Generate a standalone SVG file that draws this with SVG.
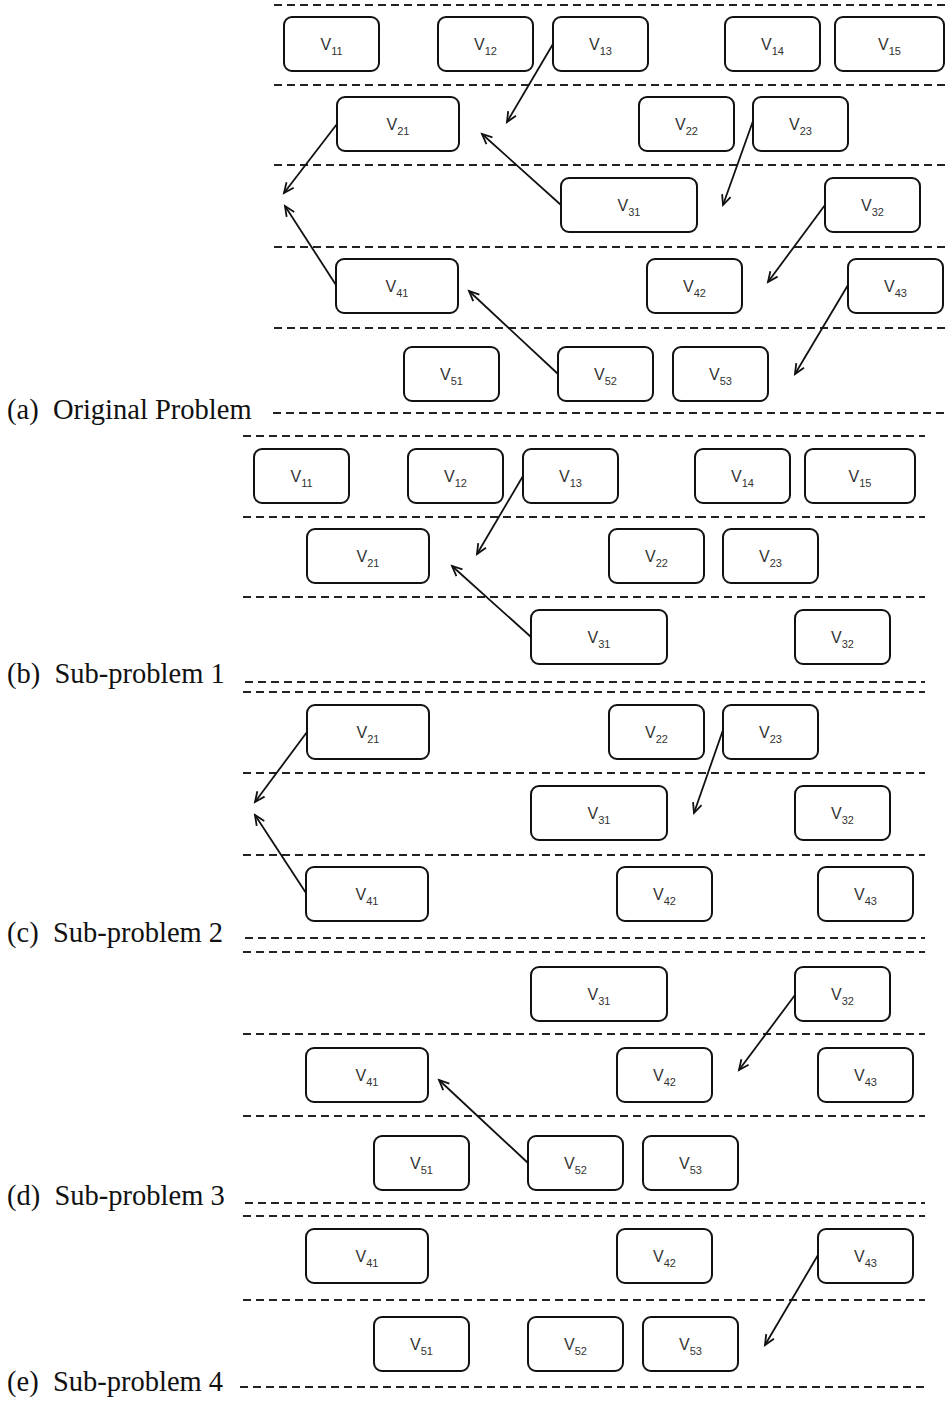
<svg xmlns="http://www.w3.org/2000/svg" width="945" height="1401" viewBox="0 0 945 1401">
<style>
.n{fill:#fff;stroke:#111;stroke-width:2}
.t{font-family:"Liberation Sans",Arial,sans-serif;font-size:16px;fill:#333;text-anchor:middle}
.s{font-size:11px}
.d{stroke:#222;stroke-width:2;stroke-dasharray:8 5;fill:none}
.e{stroke:#111;stroke-width:1.8;fill:none;marker-end:url(#ah)}
.lb{font-family:"Liberation Serif","Times New Roman",serif;font-size:28.5px;fill:#111}
</style>
<defs>
<marker id="ah" markerUnits="userSpaceOnUse" markerWidth="14" markerHeight="14" refX="10" refY="5" orient="auto" overflow="visible">
<path d="M0,0.5 L10,5 L0,9.5" fill="none" stroke="#111" stroke-width="1.8"/>
</marker>
</defs>
<rect width="945" height="1401" fill="#fff"/>
<g id="separators">
<line class="d" x1="274" y1="5" x2="945" y2="5"/>
<line class="d" x1="274" y1="85" x2="945" y2="85"/>
<line class="d" x1="274" y1="165" x2="945" y2="165"/>
<line class="d" x1="274" y1="247" x2="945" y2="247"/>
<line class="d" x1="274" y1="328" x2="945" y2="328"/>
<line class="d" x1="273" y1="413" x2="945" y2="413"/>
<line class="d" x1="243" y1="436" x2="925" y2="436"/>
<line class="d" x1="243" y1="517" x2="925" y2="517"/>
<line class="d" x1="243" y1="597" x2="925" y2="597"/>
<line class="d" x1="245" y1="682" x2="925" y2="682"/>
<line class="d" x1="243" y1="692" x2="925" y2="692"/>
<line class="d" x1="243" y1="773" x2="925" y2="773"/>
<line class="d" x1="243" y1="855" x2="925" y2="855"/>
<line class="d" x1="245" y1="938" x2="925" y2="938"/>
<line class="d" x1="243" y1="952" x2="925" y2="952"/>
<line class="d" x1="243" y1="1034" x2="925" y2="1034"/>
<line class="d" x1="243" y1="1116" x2="925" y2="1116"/>
<line class="d" x1="245" y1="1203" x2="925" y2="1203"/>
<line class="d" x1="243" y1="1216" x2="925" y2="1216"/>
<line class="d" x1="243" y1="1300" x2="925" y2="1300"/>
<line class="d" x1="240" y1="1387" x2="925" y2="1387"/>
</g>
<g id="labels">
<text class="lb" x="7" y="419" xml:space="preserve">(a)  Original Problem</text>
<text class="lb" x="7" y="683" xml:space="preserve">(b)  Sub-problem 1</text>
<text class="lb" x="7" y="942" xml:space="preserve">(c)  Sub-problem 2</text>
<text class="lb" x="7" y="1205" xml:space="preserve">(d)  Sub-problem 3</text>
<text class="lb" x="7" y="1391" xml:space="preserve">(e)  Sub-problem 4</text>
</g>
<!-- (a) -->
<g id="a-V11"><rect class="n" x="284" y="17" width="95" height="54" rx="8"/><text class="t" x="331.5" y="50">V<tspan class="s" dy="5">11</tspan></text></g>
<g id="a-V12"><rect class="n" x="438" y="17" width="95" height="54" rx="8"/><text class="t" x="485.5" y="50">V<tspan class="s" dy="5">12</tspan></text></g>
<g id="a-V13"><rect class="n" x="553" y="17" width="95" height="54" rx="8"/><text class="t" x="600.5" y="50">V<tspan class="s" dy="5">13</tspan></text></g>
<g id="a-V14"><rect class="n" x="725" y="17" width="95" height="54" rx="8"/><text class="t" x="772.5" y="50">V<tspan class="s" dy="5">14</tspan></text></g>
<g id="a-V15"><rect class="n" x="835" y="17" width="109" height="54" rx="8"/><text class="t" x="889.5" y="50">V<tspan class="s" dy="5">15</tspan></text></g>
<g id="a-V21"><rect class="n" x="337" y="97" width="122" height="54" rx="8"/><text class="t" x="398" y="130">V<tspan class="s" dy="5">21</tspan></text></g>
<g id="a-V22"><rect class="n" x="639" y="97" width="95" height="54" rx="8"/><text class="t" x="686.5" y="130">V<tspan class="s" dy="5">22</tspan></text></g>
<g id="a-V23"><rect class="n" x="753" y="97" width="95" height="54" rx="8"/><text class="t" x="800.5" y="130">V<tspan class="s" dy="5">23</tspan></text></g>
<g id="a-V31"><rect class="n" x="561" y="178" width="136" height="54" rx="8"/><text class="t" x="629" y="211">V<tspan class="s" dy="5">31</tspan></text></g>
<g id="a-V32"><rect class="n" x="825" y="178" width="95" height="54" rx="8"/><text class="t" x="872.5" y="211">V<tspan class="s" dy="5">32</tspan></text></g>
<g id="a-V41"><rect class="n" x="336" y="259" width="122" height="54" rx="8"/><text class="t" x="397" y="292">V<tspan class="s" dy="5">41</tspan></text></g>
<g id="a-V42"><rect class="n" x="647" y="259" width="95" height="54" rx="8"/><text class="t" x="694.5" y="292">V<tspan class="s" dy="5">42</tspan></text></g>
<g id="a-V43"><rect class="n" x="848" y="259" width="95" height="54" rx="8"/><text class="t" x="895.5" y="292">V<tspan class="s" dy="5">43</tspan></text></g>
<g id="a-V51"><rect class="n" x="404" y="347" width="95" height="54" rx="8"/><text class="t" x="451.5" y="380">V<tspan class="s" dy="5">51</tspan></text></g>
<g id="a-V52"><rect class="n" x="558" y="347" width="95" height="54" rx="8"/><text class="t" x="605.5" y="380">V<tspan class="s" dy="5">52</tspan></text></g>
<g id="a-V53"><rect class="n" x="673" y="347" width="95" height="54" rx="8"/><text class="t" x="720.5" y="380">V<tspan class="s" dy="5">53</tspan></text></g>
<!-- (b) -->
<g id="b-V11"><rect class="n" x="254" y="449" width="95" height="54" rx="8"/><text class="t" x="301.5" y="482">V<tspan class="s" dy="5">11</tspan></text></g>
<g id="b-V12"><rect class="n" x="408" y="449" width="95" height="54" rx="8"/><text class="t" x="455.5" y="482">V<tspan class="s" dy="5">12</tspan></text></g>
<g id="b-V13"><rect class="n" x="523" y="449" width="95" height="54" rx="8"/><text class="t" x="570.5" y="482">V<tspan class="s" dy="5">13</tspan></text></g>
<g id="b-V14"><rect class="n" x="695" y="449" width="95" height="54" rx="8"/><text class="t" x="742.5" y="482">V<tspan class="s" dy="5">14</tspan></text></g>
<g id="b-V15"><rect class="n" x="805" y="449" width="110" height="54" rx="8"/><text class="t" x="860" y="482">V<tspan class="s" dy="5">15</tspan></text></g>
<g id="b-V21"><rect class="n" x="307" y="529" width="122" height="54" rx="8"/><text class="t" x="368" y="562">V<tspan class="s" dy="5">21</tspan></text></g>
<g id="b-V22"><rect class="n" x="609" y="529" width="95" height="54" rx="8"/><text class="t" x="656.5" y="562">V<tspan class="s" dy="5">22</tspan></text></g>
<g id="b-V23"><rect class="n" x="723" y="529" width="95" height="54" rx="8"/><text class="t" x="770.5" y="562">V<tspan class="s" dy="5">23</tspan></text></g>
<g id="b-V31"><rect class="n" x="531" y="610" width="136" height="54" rx="8"/><text class="t" x="599" y="643">V<tspan class="s" dy="5">31</tspan></text></g>
<g id="b-V32"><rect class="n" x="795" y="610" width="95" height="54" rx="8"/><text class="t" x="842.5" y="643">V<tspan class="s" dy="5">32</tspan></text></g>
<!-- (c) -->
<g id="c-V21"><rect class="n" x="307" y="705" width="122" height="54" rx="8"/><text class="t" x="368" y="738">V<tspan class="s" dy="5">21</tspan></text></g>
<g id="c-V22"><rect class="n" x="609" y="705" width="95" height="54" rx="8"/><text class="t" x="656.5" y="738">V<tspan class="s" dy="5">22</tspan></text></g>
<g id="c-V23"><rect class="n" x="723" y="705" width="95" height="54" rx="8"/><text class="t" x="770.5" y="738">V<tspan class="s" dy="5">23</tspan></text></g>
<g id="c-V31"><rect class="n" x="531" y="786" width="136" height="54" rx="8"/><text class="t" x="599" y="819">V<tspan class="s" dy="5">31</tspan></text></g>
<g id="c-V32"><rect class="n" x="795" y="786" width="95" height="54" rx="8"/><text class="t" x="842.5" y="819">V<tspan class="s" dy="5">32</tspan></text></g>
<g id="c-V41"><rect class="n" x="306" y="867" width="122" height="54" rx="8"/><text class="t" x="367" y="900">V<tspan class="s" dy="5">41</tspan></text></g>
<g id="c-V42"><rect class="n" x="617" y="867" width="95" height="54" rx="8"/><text class="t" x="664.5" y="900">V<tspan class="s" dy="5">42</tspan></text></g>
<g id="c-V43"><rect class="n" x="818" y="867" width="95" height="54" rx="8"/><text class="t" x="865.5" y="900">V<tspan class="s" dy="5">43</tspan></text></g>
<!-- (d) -->
<g id="d-V31"><rect class="n" x="531" y="967" width="136" height="54" rx="8"/><text class="t" x="599" y="1000">V<tspan class="s" dy="5">31</tspan></text></g>
<g id="d-V32"><rect class="n" x="795" y="967" width="95" height="54" rx="8"/><text class="t" x="842.5" y="1000">V<tspan class="s" dy="5">32</tspan></text></g>
<g id="d-V41"><rect class="n" x="306" y="1048" width="122" height="54" rx="8"/><text class="t" x="367" y="1081">V<tspan class="s" dy="5">41</tspan></text></g>
<g id="d-V42"><rect class="n" x="617" y="1048" width="95" height="54" rx="8"/><text class="t" x="664.5" y="1081">V<tspan class="s" dy="5">42</tspan></text></g>
<g id="d-V43"><rect class="n" x="818" y="1048" width="95" height="54" rx="8"/><text class="t" x="865.5" y="1081">V<tspan class="s" dy="5">43</tspan></text></g>
<g id="d-V51"><rect class="n" x="374" y="1136" width="95" height="54" rx="8"/><text class="t" x="421.5" y="1169">V<tspan class="s" dy="5">51</tspan></text></g>
<g id="d-V52"><rect class="n" x="528" y="1136" width="95" height="54" rx="8"/><text class="t" x="575.5" y="1169">V<tspan class="s" dy="5">52</tspan></text></g>
<g id="d-V53"><rect class="n" x="643" y="1136" width="95" height="54" rx="8"/><text class="t" x="690.5" y="1169">V<tspan class="s" dy="5">53</tspan></text></g>
<!-- (e) -->
<g id="e-V41"><rect class="n" x="306" y="1229" width="122" height="54" rx="8"/><text class="t" x="367" y="1262">V<tspan class="s" dy="5">41</tspan></text></g>
<g id="e-V42"><rect class="n" x="617" y="1229" width="95" height="54" rx="8"/><text class="t" x="664.5" y="1262">V<tspan class="s" dy="5">42</tspan></text></g>
<g id="e-V43"><rect class="n" x="818" y="1229" width="95" height="54" rx="8"/><text class="t" x="865.5" y="1262">V<tspan class="s" dy="5">43</tspan></text></g>
<g id="e-V51"><rect class="n" x="374" y="1317" width="95" height="54" rx="8"/><text class="t" x="421.5" y="1350">V<tspan class="s" dy="5">51</tspan></text></g>
<g id="e-V52"><rect class="n" x="528" y="1317" width="95" height="54" rx="8"/><text class="t" x="575.5" y="1350">V<tspan class="s" dy="5">52</tspan></text></g>
<g id="e-V53"><rect class="n" x="643" y="1317" width="95" height="54" rx="8"/><text class="t" x="690.5" y="1350">V<tspan class="s" dy="5">53</tspan></text></g>
<g id="connectors">
<line class="e" x1="553" y1="44" x2="507" y2="122"/>
<line class="e" x1="561" y1="205" x2="482" y2="134"/>
<line class="e" x1="337" y1="124" x2="284" y2="193"/>
<line class="e" x1="336" y1="285" x2="285" y2="206"/>
<line class="e" x1="558" y1="374" x2="469" y2="291"/>
<line class="e" x1="753" y1="121" x2="723" y2="205"/>
<line class="e" x1="825" y1="205" x2="768" y2="282"/>
<line class="e" x1="848" y1="285" x2="795" y2="374"/>
<line class="e" x1="523" y1="476" x2="477" y2="554"/>
<line class="e" x1="531" y1="637" x2="452" y2="566"/>
<line class="e" x1="307" y1="732" x2="255" y2="802"/>
<line class="e" x1="306" y1="893" x2="255" y2="815"/>
<line class="e" x1="723" y1="730" x2="694" y2="813"/>
<line class="e" x1="795" y1="995" x2="739" y2="1070"/>
<line class="e" x1="528" y1="1163" x2="439" y2="1080"/>
<line class="e" x1="818" y1="1255" x2="765" y2="1345"/>
</g>
</svg>
